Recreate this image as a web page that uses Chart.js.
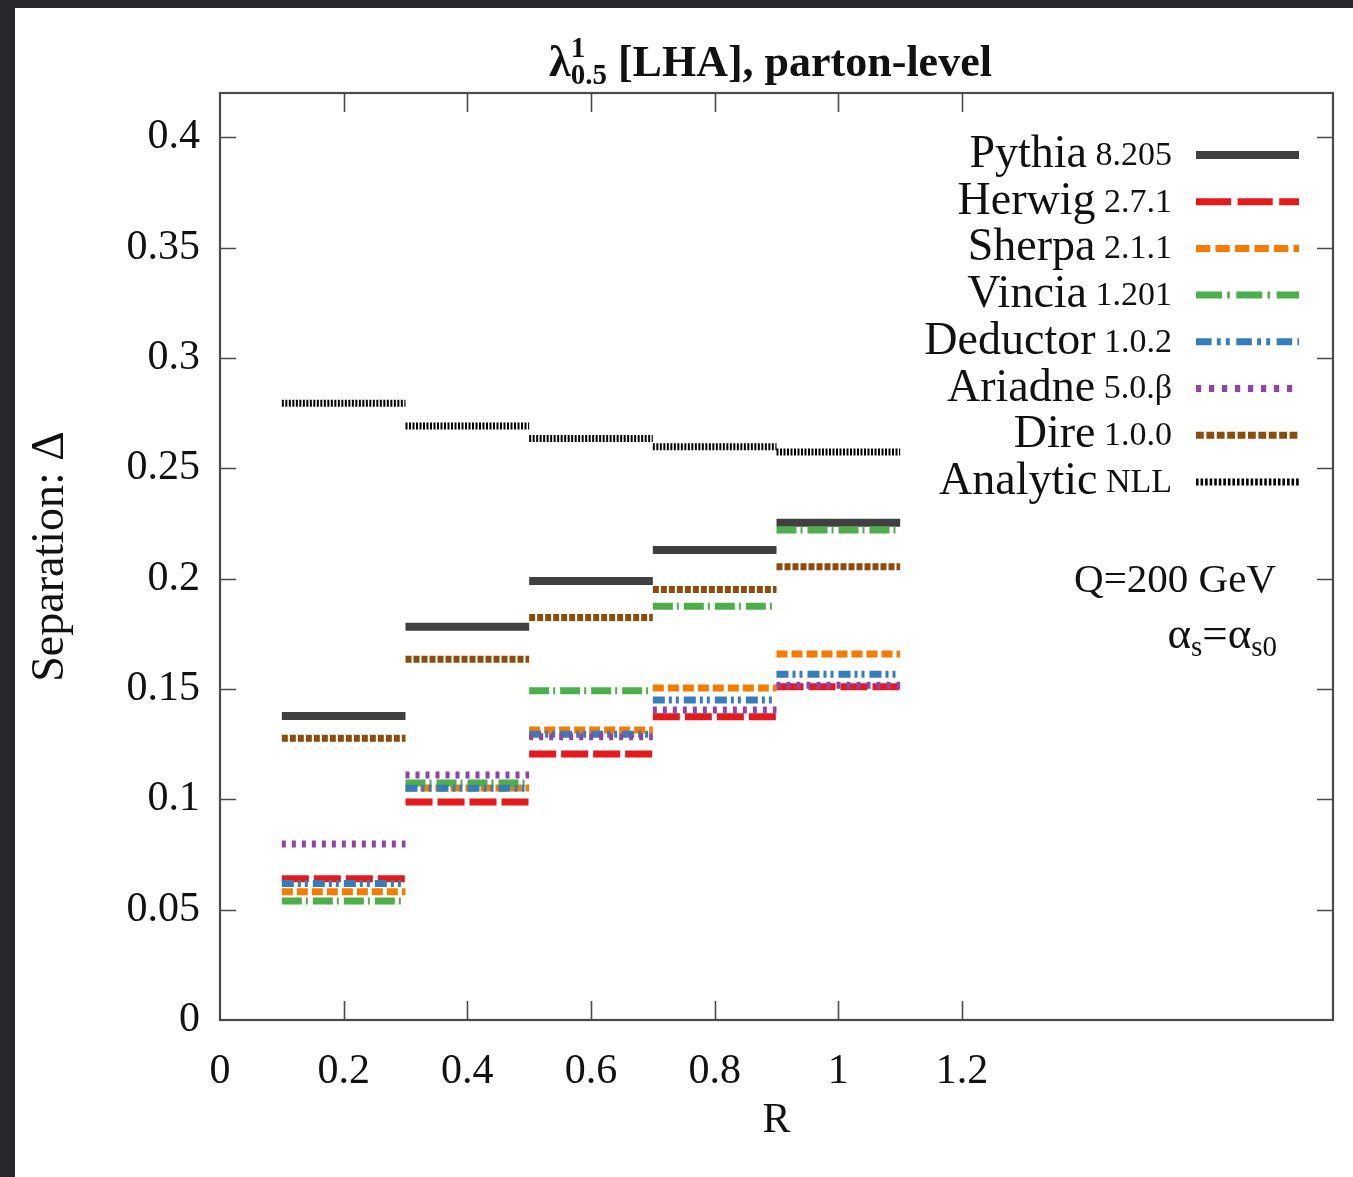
<!DOCTYPE html>
<html>
<head>
<meta charset="utf-8">
<title>LHA separation vs R</title>
<script src="https://cdn.jsdelivr.net/npm/chart.js@4.4.1/dist/chart.umd.min.js"></script>
<style>
  html, body { margin: 0; padding: 0; background: #26282b; }
  body { width: 1353px; height: 1177px; position: relative; overflow: hidden; }
  #wrap { position: absolute; left: 15px; top: 8px; width: 1338px; height: 1169px; background: #fff; }
</style>
</head>
<body>
<div id="wrap"><canvas id="sepChart"></canvas></div>
<script>
// bin edges in R, one value per bin for each generator
const binEdges = [0.1, 0.3, 0.5, 0.7, 0.9, 1.1];

const seriesNames = ["Pythia", "Herwig", "Sherpa", "Vincia", "Deductor", "Ariadne", "Dire", "Analytic"];
const seriesVersions = ["8.205", "2.7.1", "2.1.1", "1.201", "1.0.2", "5.0.\u03b2", "1.0.0", "NLL"];

const pythia   = [0.1377, 0.1782, 0.1989, 0.2129, 0.2253];
const herwig   = [0.0640, 0.0988, 0.1205, 0.1374, 0.1510];
const sherpa   = [0.0581, 0.1051, 0.1314, 0.1504, 0.1658];
const vincia   = [0.0539, 0.1074, 0.1492, 0.1875, 0.2220];
const deductor = [0.0619, 0.1050, 0.1295, 0.1450, 0.1567];
const ariadne  = [0.0797, 0.1110, 0.1283, 0.1404, 0.1517];
const dire     = [0.1276, 0.1634, 0.1824, 0.1951, 0.2054];
const analytic = [0.2794, 0.2691, 0.2635, 0.2597, 0.2574];

const xTicks = [0, 0.2, 0.4, 0.6, 0.8, 1, 1.2];
const yTicks = [0, 0.05, 0.1, 0.15, 0.2, 0.25, 0.3, 0.35, 0.4];

const colors = ["#404040", "#e41a1c", "#f57c00", "#4daf4a", "#377eb8", "#8e44a8", "#8b4c0c", "#000000"];
const dashes = [[], [27, 5], [11, 4], [20, 4, 2, 5], [12, 4, 3, 4, 3, 5], [4, 6], [6, 2], [2, 1.5]];
const widths = [8, 7, 7, 7, 7, 7, 7, 7];

const serif = "'Liberation Serif', 'DejaVu Serif', serif";

// turn per-bin values into horizontal step segments separated by gaps
function steps(vals) {
    const pts = [];
    vals.forEach((v, i) => {
        pts.push({ x: binEdges[i], y: v }, { x: binEdges[i + 1], y: v });
        if (i < vals.length - 1) pts.push({ x: binEdges[i + 1], y: null });
    });
    return pts;
}

const allValues = [pythia, herwig, sherpa, vincia, deductor, ariadne, dire, analytic];

const datasets = allValues.map((vals, i) => ({
    label: seriesNames[i] + " " + seriesVersions[i],
    data: steps(vals),
    borderColor: colors[i],
    borderWidth: widths[i],
    borderDash: dashes[i],
    borderCapStyle: "butt",
    pointRadius: 0,
    spanGaps: false,
    fill: false,
    tension: 0,
    order: allValues.length - i
}));

// frame and inward ticks on all four sides
const frameTicks = {
    id: "frameTicks",
    afterDatasetsDraw(chart) {
        const { ctx, chartArea: a, scales: { x, y } } = chart;
        ctx.save();
        ctx.strokeStyle = "#4a4a4a";
        ctx.lineWidth = 1.6;
        x.ticks.forEach(t => {
            if (t.value <= 0) return;
            const px = Math.round(x.getPixelForValue(t.value)) + 0.5;
            ctx.beginPath();
            ctx.moveTo(px, a.bottom); ctx.lineTo(px, a.bottom - 19);
            ctx.moveTo(px, a.top); ctx.lineTo(px, a.top + 19);
            ctx.stroke();
        });
        y.ticks.forEach(t => {
            if (t.value <= 0) return;
            const py = Math.round(y.getPixelForValue(t.value)) + 0.5;
            ctx.beginPath();
            ctx.moveTo(a.left, py); ctx.lineTo(a.left + 16, py);
            ctx.moveTo(a.right, py); ctx.lineTo(a.right - 16, py);
            ctx.stroke();
        });
        ctx.lineWidth = 2.2;
        ctx.strokeRect(a.left, a.top, a.right - a.left, a.bottom - a.top);
        ctx.restore();
    }
};

// title with super/subscript on lambda
const plotTitle = {
    id: "plotTitle",
    afterDraw(chart) {
        const { ctx, chartArea: a } = chart;
        const big = "bold 44px " + serif;
        const small = "bold 29px " + serif;
        const rest = " [LHA], parton-level";
        ctx.save();
        ctx.fillStyle = "#111";
        ctx.textBaseline = "alphabetic";
        ctx.font = big;
        const wl = ctx.measureText("\u03bb").width;
        const wr = ctx.measureText(rest).width;
        ctx.font = small;
        const ws = Math.max(ctx.measureText("1").width, ctx.measureText("0.5").width);
        const total = wl + ws + wr;
        let x0 = (a.left + a.right) / 2 - 6 - total / 2;
        const base = 68;
        ctx.font = big;
        ctx.textAlign = "left";
        ctx.fillText("\u03bb", x0, base);
        ctx.font = small;
        ctx.fillText("1", x0 + wl, base - 19);
        ctx.fillText("0.5", x0 + wl, base + 8);
        ctx.font = big;
        ctx.fillText(rest, x0 + wl + ws, base);
        ctx.restore();
    }
};

// key with generator names on the left of each line sample
const keyBox = {
    id: "keyBox",
    afterDraw(chart) {
        const { ctx } = chart;
        const textRight = 1157, lineL = 1181, lineR = 1284;
        const top = 147, gap = 46.7;
        ctx.save();
        ctx.textAlign = "right";
        ctx.textBaseline = "middle";
        ctx.fillStyle = "#111";
        chart.data.datasets.forEach((ds, i) => {
            const yy = top + i * gap;
            ctx.font = "34px " + serif;
            const vw = ctx.measureText(" " + seriesVersions[i]).width;
            ctx.fillText(" " + seriesVersions[i], textRight, yy + 1);
            ctx.font = "46px " + serif;
            ctx.fillText(seriesNames[i], textRight - vw, yy);
            ctx.beginPath();
            ctx.strokeStyle = ds.borderColor;
            ctx.lineWidth = ds.borderWidth;
            ctx.lineCap = "butt";
            ctx.setLineDash(ds.borderDash.map(d => d * 1.3));
            ctx.moveTo(lineL, yy);
            ctx.lineTo(lineR, yy);
            ctx.stroke();
            ctx.setLineDash([]);
        });

        // run conditions
        ctx.fillStyle = "#111";
        ctx.font = "41px " + serif;
        ctx.textBaseline = "alphabetic";
        ctx.fillText("Q=200 GeV", 1261, 584);

        const parts = [["\u03b1", 45, 0], ["s", 29, 8], ["=\u03b1", 45, 0], ["s0", 29, 8]];
        let xr = 1262;
        for (let k = parts.length - 1; k >= 0; k--) {
            const [txt, sz, dy] = parts[k];
            ctx.font = sz + "px " + serif;
            ctx.fillText(txt, xr, 640 + dy);
            xr -= ctx.measureText(txt).width;
        }
        ctx.restore();
    }
};

new Chart(document.getElementById("sepChart"), {
    type: "line",
    data: { datasets: datasets },
    options: {
        responsive: true,
        maintainAspectRatio: false,
        animation: false,
        devicePixelRatio: 1,
        layout: { padding: { left: 0, top: 85, right: 20, bottom: 0 } },
        plugins: {
            legend: { display: false },
            title: { display: false },
            tooltip: { enabled: false }
        },
        scales: {
            x: {
                type: "linear",
                min: 0,
                max: 1.8,
                afterBuildTicks: s => { s.ticks = xTicks.map(v => ({ value: v })); },
                afterFit: s => { s.height = 157; },
                grid: { display: false, drawTicks: false },
                border: { display: false },
                ticks: {
                    padding: 27,
                    color: "#111",
                    font: { family: serif, size: 42 },
                    maxRotation: 0,
                    autoSkip: false,
                    callback: v => String(Math.round(v * 100) / 100)
                },
                title: {
                    display: true,
                    text: "R",
                    color: "#111",
                    font: { family: serif, size: 42 },
                    padding: { top: 4, bottom: 31 }
                }
            },
            y: {
                type: "linear",
                min: 0,
                max: 0.42,
                afterBuildTicks: s => { s.ticks = yTicks.map(v => ({ value: v })); },
                afterFit: s => { s.width = 205; },
                grid: { display: false, drawTicks: false },
                border: { display: false },
                ticks: {
                    padding: 20,
                    color: "#111",
                    font: { family: serif, size: 42 },
                    autoSkip: false,
                    callback: v => String(Math.round(v * 100) / 100)
                },
                title: {
                    display: true,
                    text: "Separation: \u0394",
                    color: "#111",
                    font: { family: serif, size: 46 },
                    padding: { top: 8, bottom: 0 }
                }
            }
        }
    },
    plugins: [frameTicks, plotTitle, keyBox]
});
</script>
</body>
</html>
